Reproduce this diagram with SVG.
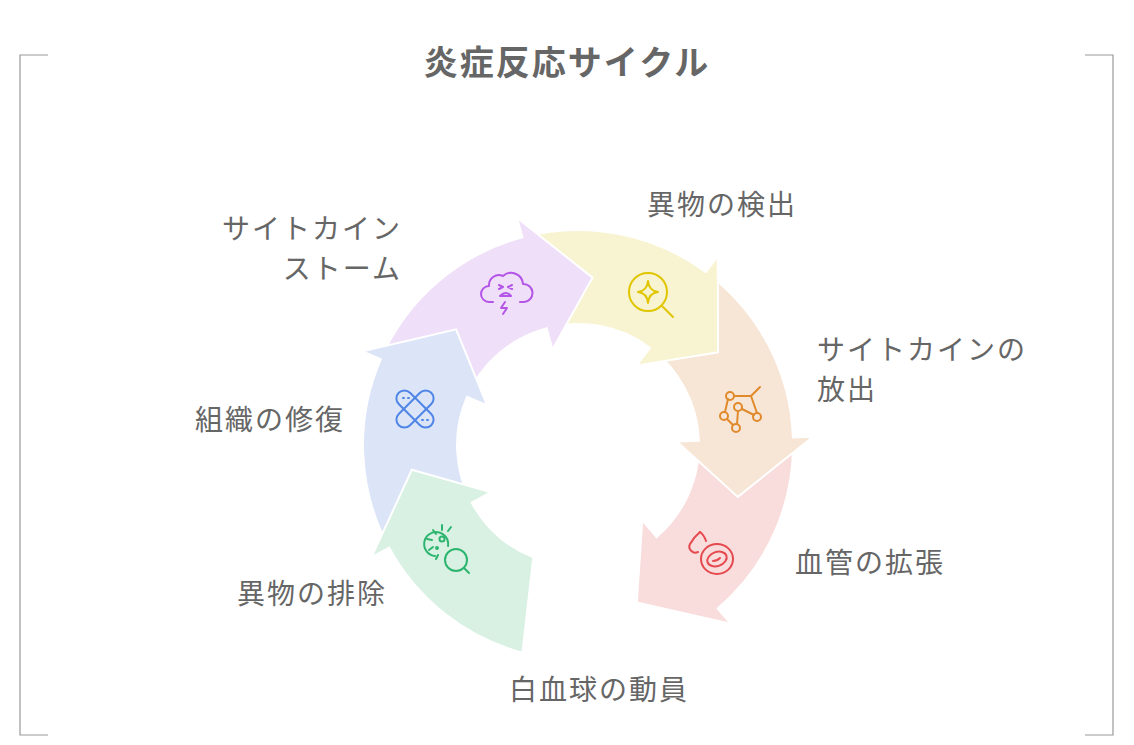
<svg xmlns="http://www.w3.org/2000/svg" width="1134" height="745" viewBox="0 0 1134 745">
<style>
.seg{stroke:#fff;stroke-width:2;stroke-linejoin:miter}
.lbl{font-family:"Noto Sans CJK JP","Liberation Sans",sans-serif;font-size:28px;letter-spacing:2px;fill:#666}
.ic{fill:none;stroke-width:2;stroke-linecap:round;stroke-linejoin:round}
.frame{fill:none;stroke:#999;stroke-width:1.2}
</style>
<rect width="1134" height="745" fill="#fff"/>
<path class="frame" d="M48 55H20V735H48M1085 55H1113V735H1085"/>
<text x="567" y="75" text-anchor="middle" style="font-family:'Noto Sans CJK JP',sans-serif;font-size:34px;letter-spacing:2px;font-weight:bold;fill:#666">炎症反応サイクル</text>
<g id="connectors">
<g id="red-arrow"><path class="seg" fill="#F9DCDC" d="M792.9 437.5A215 215 0 0 1 717.6 608.5L730.6 623.7L636.8 602.4L642.3 520.3L656.6 537A121 121 0 0 0 698.9 440.8Z"/></g>
<g id="peach-arrow"><path class="seg" fill="#F7E5D5" d="M705.9 272.2A215 215 0 0 1 792.9 437.5L812.9 436.8L737.8 496.9L676.9 441.5L698.9 440.8A121 121 0 0 0 650 347.7Z"/></g>
<g id="yellow-arrow"><path class="seg" fill="#F8F3D0" d="M522.4 237.3A215 215 0 0 1 705.9 272.2L717.8 256.1L718.1 352.3L636.9 365.4L650 347.7A121 121 0 0 0 546.7 328.1Z"/></g>
<g id="purple-arrow"><path class="seg" fill="#EFDFF8" d="M380.8 359.3A215 215 0 0 1 522.4 237.3L517.2 218L592.6 277.6L552.4 349.4L546.7 328.1A121 121 0 0 0 467 396.8Z"/></g>
<g id="blue-arrow"><path class="seg" fill="#DCE5F8" d="M389.1 547.6A215 215 0 0 1 380.8 359.3L362.5 351.3L456.1 329.3L487.2 405.5L467 396.8A121 121 0 0 0 471.7 502.7Z"/></g>
<g id="green-arrow"><path class="seg" fill="#D8F1E3" d="M522.4 652.7A215 215 0 0 1 389.1 547.6L371.5 557.1L411.8 469.8L491 492.2L471.7 502.7A121 121 0 0 0 533.3 557.4Z"/></g>
</g>
<g id="node-storm">
<g class="ic" stroke="#B455E8"><path d="M493 302h-4a8 8 0 0 1 0-16a10 10 0 0 1 14-10a12 12 0 0 1 20 8a9 9 0 0 1 1 18h-4"/><path d="M499 285l4 2l-4 2M512 285l-4 2l4 2M500 296q6-6 11 0z"/><path d="M505 302l-4 6h6l-4 6"/></g>
<text class="lbl" x="402" y="239" text-anchor="end">サイトカイン</text>
<text class="lbl" x="402" y="279" text-anchor="end">ストーム</text>
</g>
<g id="node-detect">
<g class="ic" stroke="#E0C600"><circle cx="648" cy="292" r="19"/><path d="M662 306l11 11"/><path d="M648 281q1 10 10 11q-9 1-10 11q-1-10-10-11q9-1 10-11z"/></g>
<text class="lbl" x="647" y="215">異物の検出</text>
</g>
<g id="node-release">
<g class="ic" stroke="#E08A2C"><circle cx="730" cy="396" r="4"/><circle cx="738" cy="407" r="4"/><circle cx="724" cy="416" r="4"/><circle cx="736" cy="428" r="4"/><circle cx="757" cy="417" r="4"/><path d="M734 396h17l6 17M751 396l9-9M742 409l12 6M727 419l6 6M737 424l1-13M728 399l-3 13"/></g>
<text class="lbl" x="817" y="360">サイトカインの</text>
<text class="lbl" x="817" y="400">放出</text>
</g>
<g id="node-dilation">
<g class="ic" stroke="#E5484D"><path d="M700 532q-6 5-10 12a6 6 0 0 0 8 8"/><path d="M700 532q4 3 6 9"/><ellipse cx="717" cy="559" rx="16" ry="15"/><ellipse cx="717" cy="559" rx="10" ry="7" transform="rotate(-20 717 559)"/><path d="M713 561q4 0 7-3"/></g>
<text class="lbl" x="795" y="573">血管の拡張</text>
</g>
<g id="node-wbc">
<text class="lbl" x="509" y="700">白血球の動員</text>
</g>
<g id="node-eliminate">
<g class="ic" stroke="#2DB56F"><path d="M448 546a12 12 0 1 0-13 10"/><circle cx="442" cy="539" r="2.5"/><circle cx="437" cy="548" r="1"/><path d="M436 534l-3-4M442 530v-5M448 531l3-4M432 540l-5-1M433 547l-4 3M438 555l-2 4"/><circle cx="456" cy="560" r="11"/><path d="M464 568l5 5"/></g>
<text class="lbl" x="237" y="604">異物の排除</text>
</g>
<g id="node-repair">
<g class="ic" stroke="#4F86E6"><rect x="392" y="401" width="46" height="16" rx="8" transform="rotate(45 415 409)"/><rect x="392" y="401" width="46" height="16" rx="8" transform="rotate(-45 415 409)"/><path d="M403 398h1M408 398h1M422 420h1M427 420h1"/></g>
<text class="lbl" x="195" y="430">組織の修復</text>
</g>
</svg>
